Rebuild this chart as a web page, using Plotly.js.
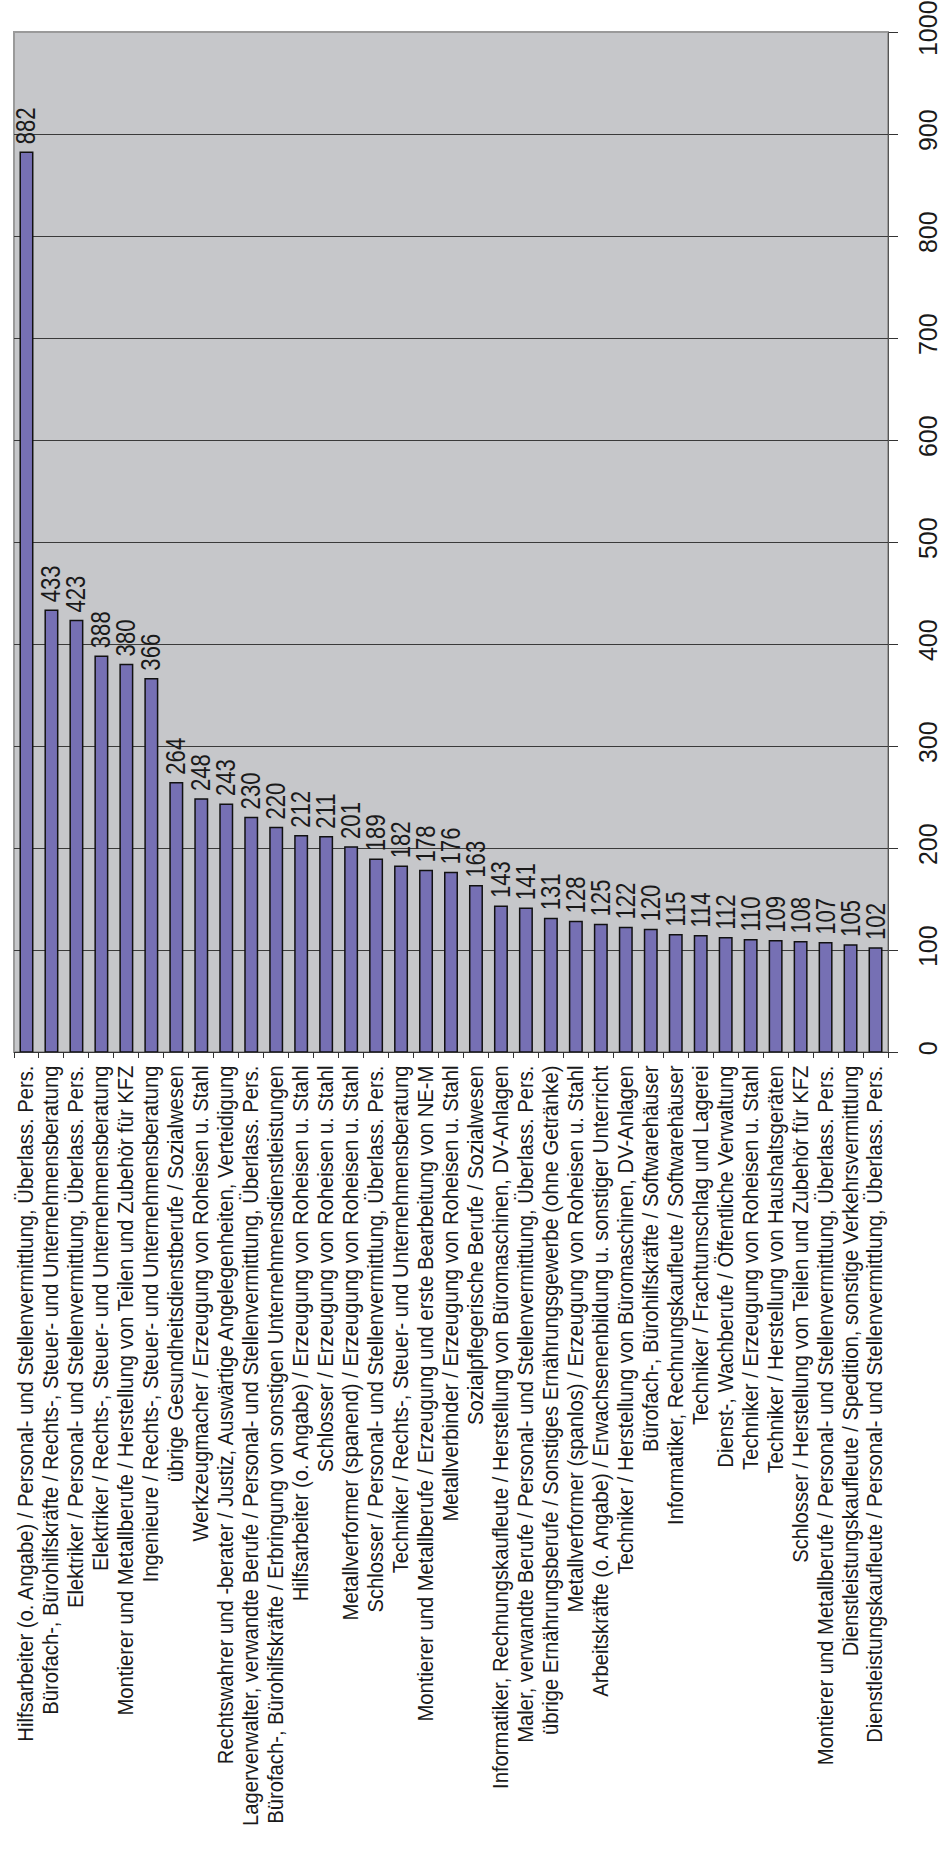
<!DOCTYPE html>
<html>
<head>
<meta charset="utf-8">
<script src="https://cdn.plot.ly/plotly-3.0.1.min.js"></script>
<style>
  html, body { margin: 0; padding: 0; background: #ffffff; }
  #chart { width: 947px; height: 1865px; }
</style>
</head>
<body>
<div id="chart"></div>
<script>
// Occupation / industry combinations, sorted by count
const categories = [
  "Hilfsarbeiter (o. Angabe) / Personal- und Stellenvermittlung, Überlass. Pers.",
  "Bürofach-, Bürohilfskräfte / Rechts-, Steuer- und Unternehmensberatung",
  "Elektriker / Personal- und Stellenvermittlung, Überlass. Pers.",
  "Elektriker / Rechts-, Steuer- und Unternehmensberatung",
  "Montierer und Metallberufe / Herstellung von Teilen und Zubehör für KFZ",
  "Ingenieure / Rechts-, Steuer- und Unternehmensberatung",
  "übrige Gesundheitsdienstberufe / Sozialwesen",
  "Werkzeugmacher / Erzeugung von Roheisen u. Stahl",
  "Rechtswahrer und -berater / Justiz, Auswärtige Angelegenheiten, Verteidigung",
  "Lagerverwalter, verwandte Berufe / Personal- und Stellenvermittlung, Überlass. Pers.",
  "Bürofach-, Bürohilfskräfte / Erbringung von sonstigen Unternehmensdienstleistungen",
  "Hilfsarbeiter (o. Angabe) / Erzeugung von Roheisen u. Stahl",
  "Schlosser / Erzeugung von Roheisen u. Stahl",
  "Metallverformer (spanend) / Erzeugung von Roheisen u. Stahl",
  "Schlosser / Personal- und Stellenvermittlung, Überlass. Pers.",
  "Techniker / Rechts-, Steuer- und Unternehmensberatung",
  "Montierer und Metallberufe / Erzeugung und erste Bearbeitung von NE-M",
  "Metallverbinder / Erzeugung von Roheisen u. Stahl",
  "Sozialpflegerische Berufe / Sozialwesen",
  "Informatiker, Rechnungskaufleute / Herstellung von Büromaschinen, DV-Anlagen",
  "Maler, verwandte Berufe / Personal- und Stellenvermittlung, Überlass. Pers.",
  "übrige Ernährungsberufe / Sonstiges Ernährungsgewerbe (ohne Getränke)",
  "Metallverformer (spanlos) / Erzeugung von Roheisen u. Stahl",
  "Arbeitskräfte (o. Angabe) / Erwachsenenbildung u. sonstiger Unterricht",
  "Techniker / Herstellung von Büromaschinen, DV-Anlagen",
  "Bürofach-, Bürohilfskräfte / Softwarehäuser",
  "Informatiker, Rechnungskaufleute / Softwarehäuser",
  "Techniker / Frachtumschlag und Lagerei",
  "Dienst-, Wachberufe / Öffentliche Verwaltung",
  "Techniker / Erzeugung von Roheisen u. Stahl",
  "Techniker / Herstellung von Haushaltsgeräten",
  "Schlosser / Herstellung von Teilen und Zubehör für KFZ",
  "Montierer und Metallberufe / Personal- und Stellenvermittlung, Überlass. Pers.",
  "Dienstleistungskaufleute / Spedition, sonstige Verkehrsvermittlung",
  "Dienstleistungskaufleute / Personal- und Stellenvermittlung, Überlass. Pers."
];

const counts = [
  882, 433, 423, 388, 380, 366, 264, 248, 243, 230,
  220, 212, 211, 201, 189, 182, 178, 176, 163, 143,
  141, 131, 128, 125, 122, 120, 115, 114, 112, 110,
  109, 108, 107, 105, 102
];

const valueTicks = [0, 100, 200, 300, 400, 500, 600, 700, 800, 900, 1000];

const FONT = "Liberation Sans, Arial, sans-serif";

const trace = {
  type: "bar",
  x: categories,
  y: counts,
  text: counts.map(String),
  textposition: "outside",
  textangle: -90,
  constraintext: "none",
  cliponaxis: false,
  textfont: { family: FONT, size: 27, color: "#1a1a1a" },
  marker: { color: "#7670b4", line: { color: "#111111", width: 1.5 } },
  hoverinfo: "x+y"
};

const layout = {
  width: 947,
  height: 1865,
  margin: { l: 14, r: 59, t: 32, b: 813 },
  paper_bgcolor: "#ffffff",
  plot_bgcolor: "#c6c7ca",
  showlegend: false,
  bargap: 0.5,
  font: { family: FONT, color: "#1a1a1a" },
  xaxis: {
    type: "category",
    tickmode: "linear",
    tick0: 0,
    dtick: 1,
    tickangle: -90,
    tickson: "boundaries",
    ticks: "outside",
    ticklen: 5,
    tickwidth: 1,
    tickcolor: "#333333",
    showgrid: false,
    showline: true,
    linecolor: "#333333",
    linewidth: 1,
    tickfont: { family: FONT, size: 21.5, color: "#1a1a1a" },
    ticklabelstandoff: 4,
    ticklabeloverflow: "allow",
    automargin: false
  },
  yaxis: {
    side: "right",
    range: [0, 1000],
    tickvals: valueTicks,
    ticktext: valueTicks.map(String),
    tickangle: -90,
    ticks: "outside",
    ticklen: 9,
    tickcolor: "#333333",
    showline: true,
    linecolor: "#555555",
    linewidth: 1,
    showgrid: true,
    gridcolor: "#3a3a3a",
    gridwidth: 1,
    zeroline: false,
    tickfont: { family: FONT, size: 25, color: "#1a1a1a" },
    ticklabelstandoff: 9,
    ticklabeloverflow: "allow",
    automargin: false
  },
  shapes: [
    {
      type: "rect", xref: "paper", yref: "paper",
      x0: 0, x1: 1, y0: 0, y1: 1,
      line: { color: "#9a9a9a", width: 2 },
      layer: "below"
    }
  ]
};

// Squeeze rotated labels along their reading direction (screen y),
// giving the tall, narrow letters of a condensed face.
function condense(nodes, factor, anchor, lift) {
  nodes.forEach(function (el) {
    const box = el.getBBox();
    const orig = el.getAttribute("transform") || "";
    const tl = el.transform.baseVal.consolidate();
    const m = tl ? tl.matrix : null;
    const pts = [[box.x, box.y], [box.x + box.width, box.y],
                 [box.x, box.y + box.height], [box.x + box.width, box.y + box.height]]
      .map(function (p) {
        return m ? [m.a * p[0] + m.c * p[1] + m.e, m.b * p[0] + m.d * p[1] + m.f] : p;
      });
    const xs = pts.map(function (p) { return p[0]; });
    const ys = pts.map(function (p) { return p[1]; });
    const ax = (Math.min.apply(null, xs) + Math.max.apply(null, xs)) / 2;
    let ay = (Math.min.apply(null, ys) + Math.max.apply(null, ys)) / 2;
    if (anchor === "bottom") ay = Math.max.apply(null, ys);
    if (anchor === "top") ay = Math.min.apply(null, ys);
    el.setAttribute("transform",
      "translate(0," + (-lift) + ") translate(" + ax + "," + ay + ") scale(1," + factor + ") translate(" +
      (-ax) + "," + (-ay) + ") " + orig);
  });
}

Plotly.newPlot("chart", [trace], layout, { staticPlot: true, displayModeBar: false })
  .then(function (gd) {
    condense(gd.querySelectorAll("text.bartext"), 0.82, "bottom", 5);
    condense(gd.querySelectorAll(".xtick text"), 0.94, "top", 0);
  });
</script>
</body>
</html>
